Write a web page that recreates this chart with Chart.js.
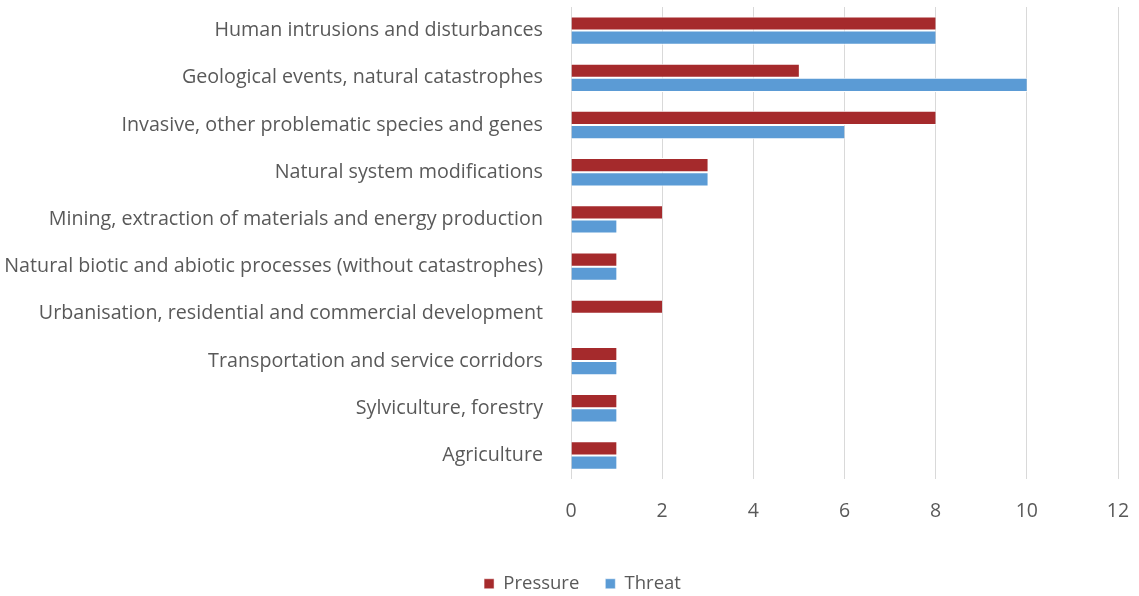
<!DOCTYPE html>
<html>
<head>
<meta charset="utf-8">
<script src="https://cdn.jsdelivr.net/npm/chart.js@4/dist/chart.umd.min.js"></script>
<style>
  html, body { margin: 0; padding: 0; background: #fff; }
  #wrap { width: 1139px; height: 596px; }
</style>
</head>
<body>
<div id="wrap"><canvas id="pressureThreatChart"></canvas></div>
<script>
const categories = [
    'Human intrusions and disturbances',
    'Geological events, natural catastrophes',
    'Invasive, other problematic species and genes',
    'Natural system modifications',
    'Mining, extraction of materials and energy production',
    'Natural biotic and abiotic processes (without catastrophes)',
    'Urbanisation, residential and commercial development',
    'Transportation and service corridors',
    'Sylviculture, forestry',
    'Agriculture'
];
const pressureValues = [8, 5, 8, 3, 2, 1, 2, 1, 1, 1];
const threatValues = [8, 10, 6, 3, 1, 1, 0, 1, 1, 1];
const xTicks = [0, 2, 4, 6, 8, 10, 12];

const textColor = '#595959';
const gridColor = '#d9d9d9';
const fontFamily = '"Open Sans", "DejaVu Sans", sans-serif';

// move the legend right/down so it sits under the plot, near the bottom edge
const legendShift = {
    id: 'legendShift',
    afterLayout(chart) {
        const lg = chart.legend;
        if (lg) {
            lg.left += 10;
            lg.right += 10;
            lg.top += 7;
            lg.bottom += 7;
        }
    }
};

const ctx = document.getElementById('pressureThreatChart').getContext('2d');

new Chart(ctx, {
    type: 'bar',
    data: {
        labels: categories,
        datasets: [
            {
                label: 'Pressure',
                data: pressureValues,
                backgroundColor: '#a52a2c',
                borderColor: '#ffffff',
                borderWidth: { top: 1, bottom: 1, left: 0, right: 0 },
                borderSkipped: false,
                categoryPercentage: 0.6,
                barPercentage: 1.0
            },
            {
                label: 'Threat',
                data: threatValues,
                backgroundColor: '#5b9bd5',
                borderColor: '#ffffff',
                borderWidth: { top: 1, bottom: 1, left: 0, right: 0 },
                borderSkipped: false,
                categoryPercentage: 0.6,
                barPercentage: 1.0
            }
        ]
    },
    options: {
        indexAxis: 'y',
        responsive: true,
        maintainAspectRatio: false,
        animation: false,
        layout: {
            padding: { left: 6, right: 0, top: 0, bottom: 0 }
        },
        scales: {
            x: {
                min: 0,
                max: 12,
                afterBuildTicks: (scale) => {
                    scale.ticks = xTicks.map(v => ({ value: v }));
                },
                grid: { color: gridColor, lineWidth: 1, drawTicks: false },
                border: { display: false },
                ticks: {
                    color: textColor,
                    padding: 21,
                    font: { family: fontFamily, size: 19.5 }
                },
                afterFit: (scale) => {
                    scale.height -= 3;
                    scale.paddingRight = 21;
                }
            },
            y: {
                grid: { display: false },
                border: { display: false },
                ticks: {
                    color: textColor,
                    padding: 20,
                    autoSkip: false,
                    font: { family: fontFamily, size: 19.7 }
                },
                // long category names need more room than the default half-width cap
                afterFit: (scale) => {
                    scale.width = 565;
                    scale.paddingTop = 7;
                    scale.paddingBottom = 0;
                }
            }
        },
        plugins: {
            legend: {
                display: true,
                position: 'bottom',
                labels: {
                    color: textColor,
                    boxWidth: 10,
                    boxHeight: 10,
                    padding: 26,
                    font: { family: fontFamily, size: 18.5 }
                }
            },
            tooltip: { enabled: false }
        }
    },
    plugins: [legendShift]
});
</script>
</body>
</html>
